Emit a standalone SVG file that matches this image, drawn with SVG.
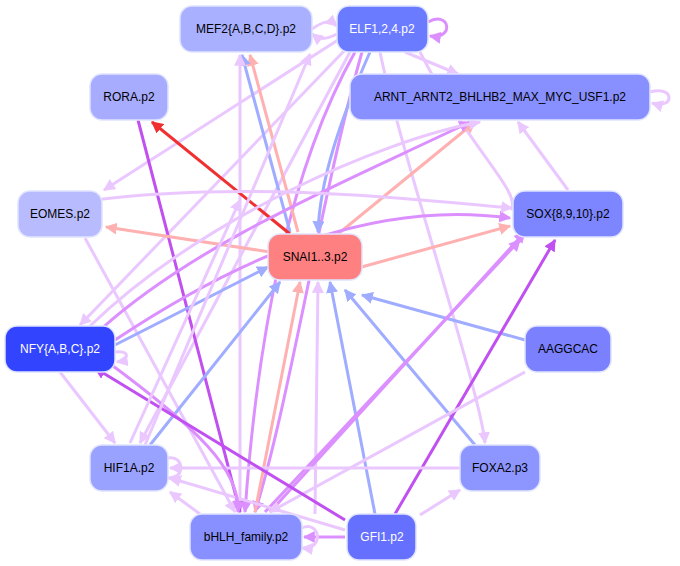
<svg xmlns="http://www.w3.org/2000/svg" width="680" height="566" viewBox="0 0 680 566">
<defs>
<marker id="ap" viewBox="0 0 10 10" refX="9" refY="5" markerWidth="4" markerHeight="4" orient="auto"><path d="M0,0L10,5L0,10z" fill="#eac8ff"/></marker>
<marker id="am" viewBox="0 0 10 10" refX="9" refY="5" markerWidth="4" markerHeight="4" orient="auto"><path d="M0,0L10,5L0,10z" fill="#c050f0"/></marker>
<marker id="an" viewBox="0 0 10 10" refX="9" refY="5" markerWidth="4" markerHeight="4" orient="auto"><path d="M0,0L10,5L0,10z" fill="#dc90ff"/></marker>
<marker id="ab" viewBox="0 0 10 10" refX="9" refY="5" markerWidth="4" markerHeight="4" orient="auto"><path d="M0,0L10,5L0,10z" fill="#a0acff"/></marker>
<marker id="ar" viewBox="0 0 10 10" refX="9" refY="5" markerWidth="4" markerHeight="4" orient="auto"><path d="M0,0L10,5L0,10z" fill="#ffb0b0"/></marker>
<marker id="arr" viewBox="0 0 10 10" refX="9" refY="5" markerWidth="4" markerHeight="4" orient="auto"><path d="M0,0L10,5L0,10z" fill="#f03030"/></marker>
</defs>
<style>
.n rect{stroke:#e0e4ff;stroke-width:1.5}
.n text{font-family:"Liberation Sans",Arial,sans-serif;font-size:12px;text-anchor:middle;dominant-baseline:central;fill:#000}
.w text{fill:#fff}
#edges path{fill:none;stroke-width:3}
.p{stroke:#eac8ff;marker-end:url(#ap)}
.m{stroke:#c050f0;marker-end:url(#am)}
.q{stroke:#dc90ff;marker-end:url(#an)}
.b{stroke:#a0acff;marker-end:url(#ab)}
.r{stroke:#ffb0b0;marker-end:url(#ar)}
.rr{stroke:#f03030;marker-end:url(#arr)}
</style>
<g id="edges">
<path class="p" d="M312,29 C325,20 330,20 337,26"/>
<path class="p" d="M337,34 C325,40 320,40 312,34"/>
<path class="q" d="M428,22 C450,10 455,40 430,36"/>
<path class="p" d="M650,92 C675,85 675,110 652,103"/>
<path class="p" d="M405,52 L458,74"/>
<path class="p" d="M338,40 L104,190"/>
<path class="p" d="M345,50 L80,325"/>
<path class="p" d="M350,52 L140,443"/>
<path class="q" d="M355,52 C300,150 260,300 245,512"/>
<path class="q" d="M362,52 C320,200 290,400 255,512"/>
<path class="b" d="M370,52 C340,120 320,180 318,232"/>
<path class="r" d="M298,232 L250,55"/>
<path class="b" d="M290,232 L242,55"/>
<path class="p" d="M240,512 L240,55"/>
<path class="p" d="M420,52 C470,150 520,190 512,210"/>
<path class="p" d="M380,52 C400,150 480,390 485,443"/>
<path class="rr" d="M290,234 L152,122"/>
<path class="m" d="M138,120 L240,512"/>
<path class="r" d="M270,252 L106,227"/>
<path class="p" d="M85,238 L235,512"/>
<path class="r" d="M338,234 L475,122"/>
<path class="r" d="M358,268 L510,226"/>
<path class="q" d="M115,340 C250,250 380,200 510,218"/>
<path class="q" d="M100,330 C200,240 350,180 470,122"/>
<path class="p" d="M90,326 C200,220 380,140 480,122"/>
<path class="p" d="M95,200 C250,180 420,200 512,208"/>
<path class="b" d="M115,345 L268,267"/>
<path class="b" d="M525,340 L362,295"/>
<path class="b" d="M475,445 L345,290"/>
<path class="b" d="M375,514 L330,282"/>
<path class="p" d="M315,514 L318,282"/>
<path class="r" d="M255,512 L300,282"/>
<path class="b" d="M150,445 L280,282"/>
<path class="p" d="M568,190 L518,122"/>
<path class="m" d="M395,514 L555,240"/>
<path class="q" d="M265,512 L520,240"/>
<path class="q" d="M270,512 L525,232"/>
<path class="p" d="M525,372 L270,512"/>
<path class="p" d="M460,468 L170,468"/>
<path class="p" d="M345,530 L170,478"/>
<path class="q" d="M105,360 C200,430 240,470 238,512"/>
<path class="m" d="M345,520 L95,368"/>
<path class="p" d="M60,372 L115,443"/>
<path class="p" d="M200,514 L170,492"/>
<path class="q" d="M345,537 L304,537"/>
<path class="p" d="M302,528 C320,520 325,550 302,548"/>
<path class="p" d="M168,458 C185,455 185,480 168,478"/>
<path class="p" d="M115,352 C130,350 130,360 117,362"/>
<path class="p" d="M420,515 L460,490"/>
<path class="p" d="M130,443 L240,200"/>
<path class="p" d="M145,445 L310,54"/>
</g>
<g id="MEF2" class="n"><rect x="180" y="6" width="132" height="46" rx="12" fill="#a8b0ff"/><text x="246" y="29">MEF2{A,B,C,D}.p2</text></g>
<g id="ELF" class="n w"><rect x="337" y="6" width="91" height="46" rx="12" fill="#6b7bff"/><text x="382" y="29">ELF1,2,4.p2</text></g>
<g id="ARNT" class="n"><rect x="350" y="74" width="300" height="46" rx="12" fill="#8890ff"/><text x="500" y="97">ARNT_ARNT2_BHLHB2_MAX_MYC_USF1.p2</text></g>
<g id="RORA" class="n"><rect x="90" y="74" width="78" height="46" rx="12" fill="#a8acff"/><text x="129" y="97">RORA.p2</text></g>
<g id="EOMES" class="n"><rect x="18" y="191" width="84" height="46" rx="12" fill="#b8bcff"/><text x="60" y="214">EOMES.p2</text></g>
<g id="SOX" class="n"><rect x="513" y="191" width="110" height="46" rx="12" fill="#7d86ff"/><text x="568" y="214">SOX{8,9,10}.p2</text></g>
<g id="SNAI" class="n"><rect x="268" y="234" width="94" height="46" rx="12" fill="#ff8080"/><text x="315" y="257">SNAI1..3.p2</text></g>
<g id="NFY" class="n w"><rect x="5" y="326" width="110" height="46" rx="12" fill="#3344ff"/><text x="60" y="349">NFY{A,B,C}.p2</text></g>
<g id="AAGGCAC" class="n"><rect x="525" y="326" width="86" height="46" rx="12" fill="#7b80ff"/><text x="568" y="349">AAGGCAC</text></g>
<g id="HIF1A" class="n"><rect x="90" y="445" width="78" height="46" rx="12" fill="#9aa2ff"/><text x="129" y="468">HIF1A.p2</text></g>
<g id="FOXA2" class="n"><rect x="460" y="445" width="80" height="46" rx="12" fill="#8d96ff"/><text x="500" y="468">FOXA2.p3</text></g>
<g id="bHLH" class="n"><rect x="190" y="514" width="112" height="46" rx="12" fill="#8890ff"/><text x="246" y="537">bHLH_family.p2</text></g>
<g id="GFI1" class="n w"><rect x="347" y="514" width="69" height="46" rx="12" fill="#6670ff"/><text x="382" y="537">GFI1.p2</text></g>
</svg>
